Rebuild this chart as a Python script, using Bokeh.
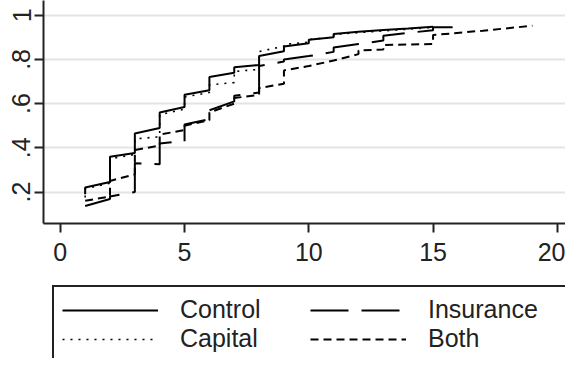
from bokeh.plotting import figure
from bokeh.layouts import column
from bokeh.models import Range1d, FixedTicker, Legend, LegendItem
from bokeh.embed import file_html
from bokeh.resources import INLINE

# ---- data (cumulative proportion by day) ----
control_x = [1, 1, 2, 2, 3, 3, 4, 4, 5, 5, 6, 6, 7, 7, 8, 8, 9, 9, 10, 10, 11, 11, 12, 13, 14, 15]
control_y = [0.19, 0.22, 0.245, 0.36, 0.377, 0.465, 0.49, 0.56, 0.585, 0.64, 0.66, 0.72, 0.74, 0.765,
             0.775, 0.815, 0.837, 0.858, 0.873, 0.889, 0.90, 0.915, 0.925, 0.933, 0.94, 0.948]

capital_x = [1, 1, 2, 2, 3, 3, 4, 4, 5, 5, 6, 6, 7, 7, 8, 8, 9, 9, 10, 10, 11, 11, 15]
capital_y = [0.175, 0.215, 0.24, 0.35, 0.37, 0.44, 0.45, 0.55, 0.575, 0.63, 0.65, 0.685, 0.695, 0.745,
             0.755, 0.835, 0.86, 0.868, 0.878, 0.89, 0.90, 0.913, 0.945]

insurance_x = [1, 2, 2, 3, 3, 4, 4, 5, 5, 6, 6, 7, 7, 8, 8, 9, 9, 10, 11, 11, 12, 13, 13, 14, 15, 15, 16]
insurance_y = [0.137, 0.168, 0.18, 0.20, 0.33, 0.326, 0.42, 0.43, 0.505, 0.53, 0.57, 0.61, 0.635, 0.65,
               0.77, 0.79, 0.80, 0.815, 0.834, 0.854, 0.87, 0.885, 0.907, 0.92, 0.932, 0.945, 0.946]

both_x = [1, 2, 2, 3, 3, 4, 4, 5, 5, 6, 6, 7, 7, 8, 8, 9, 9, 10, 11, 12, 12, 13, 13, 15, 15, 17, 19]
both_y = [0.16, 0.18, 0.25, 0.28, 0.39, 0.41, 0.46, 0.48, 0.50, 0.525, 0.56, 0.60, 0.625, 0.64, 0.67,
          0.69, 0.75, 0.77, 0.795, 0.824, 0.84, 0.845, 0.865, 0.87, 0.91, 0.93, 0.952]

series_names = ["Control", "Capital", "Insurance", "Both"]
legend_order = ["Control", "Insurance", "Capital", "Both"]

x_ticks = [0, 5, 10, 15, 20]
y_ticks = [0.2, 0.4, 0.6, 0.8, 1.0]
y_tick_labels = {0.2: ".2", 0.4: ".4", 0.6: ".6", 0.8: ".8", 1.0: "1"}

FONT = "Liberation Sans"
INK = "#222222"
STYLES = {
    "Control": dict(line_color="black", line_width=2),
    "Capital": dict(line_color="black", line_width=1.6, line_dash="2 6"),
    "Insurance": dict(line_color="black", line_width=2, line_dash="38 13"),
    "Both": dict(line_color="black", line_width=2, line_dash="8 5"),
}
data = {
    "Control": (control_x, control_y),
    "Capital": (capital_x, capital_y),
    "Insurance": (insurance_x, insurance_y),
    "Both": (both_x, both_y),
}

# ---------------- main plot ----------------
p = figure(frame_width=522, frame_height=223, output_backend="svg", toolbar_location=None,
           x_range=Range1d(-0.676, 20.33), y_range=Range1d(0.0575, 1.0665),
           min_border_left=43, min_border_right=0, min_border_top=0, min_border_bottom=50)
p.outline_line_color = None
p.background_fill_color = "white"
p.border_fill_color = "white"

p.xgrid.grid_line_color = None
p.ygrid.grid_line_color = "#e4e4e4"
p.ygrid.grid_line_width = 2
p.ygrid.ticker = FixedTicker(ticks=y_ticks)

p.xaxis.ticker = FixedTicker(ticks=x_ticks)
p.yaxis.ticker = FixedTicker(ticks=y_ticks)
p.yaxis.major_label_overrides = y_tick_labels
p.yaxis.major_label_orientation = "vertical"
for ax in (p.xaxis, p.yaxis):
    ax.axis_line_width = 2
    ax.axis_line_color = INK
    ax.major_tick_line_width = 2
    ax.major_tick_line_color = INK
    ax.major_tick_out = 9
    ax.major_tick_in = 0
    ax.minor_tick_out = 0
    ax.minor_tick_in = 0
    ax.major_label_text_font = FONT
    ax.major_label_text_font_size = "25px"
    ax.major_label_text_color = INK
p.xaxis.major_label_standoff = 10
p.yaxis.major_label_standoff = 4

for name in series_names:
    xs, ys = data[name]
    p.line(xs, ys, **STYLES[name])

# ---------------- legend panel (series drawn off-frame, only legend visible) ----------------
lf = figure(frame_width=522, frame_height=85, output_backend="svg", toolbar_location=None,
            x_range=Range1d(-3, -2), y_range=Range1d(-3, -2),
            x_axis_type=None, y_axis_type=None,
            min_border_left=43, min_border_right=0, min_border_top=0, min_border_bottom=0)
lf.outline_line_color = None
lf.grid.grid_line_color = None
lf.background_fill_color = "white"
lf.border_fill_color = "white"

legend_renderers = {}
for name in series_names:
    xs, ys = data[name]
    legend_renderers[name] = lf.line(xs, ys, **STYLES[name])

legend = Legend(items=[LegendItem(label=n, renderers=[legend_renderers[n]]) for n in legend_order],
                orientation="horizontal", ncols=2, location=(9, -5))
legend.label_text_font = FONT
legend.label_text_font_size = "25px"
legend.label_text_color = INK
legend.glyph_width = 96
legend.glyph_height = 24
legend.label_height = 24
legend.label_width = 130
legend.label_standoff = 22
legend.spacing = 0
legend.padding = 8
legend.margin = 0
legend.border_line_color = INK
legend.border_line_alpha = 1.0
legend.border_line_width = 2
legend.background_fill_color = "white"
legend.background_fill_alpha = 1.0
legend.click_policy = "none"
lf.add_layout(legend, "center")

layout = column(p, lf, spacing=0)
open("out.html", "w").write(file_html(layout, INLINE))
